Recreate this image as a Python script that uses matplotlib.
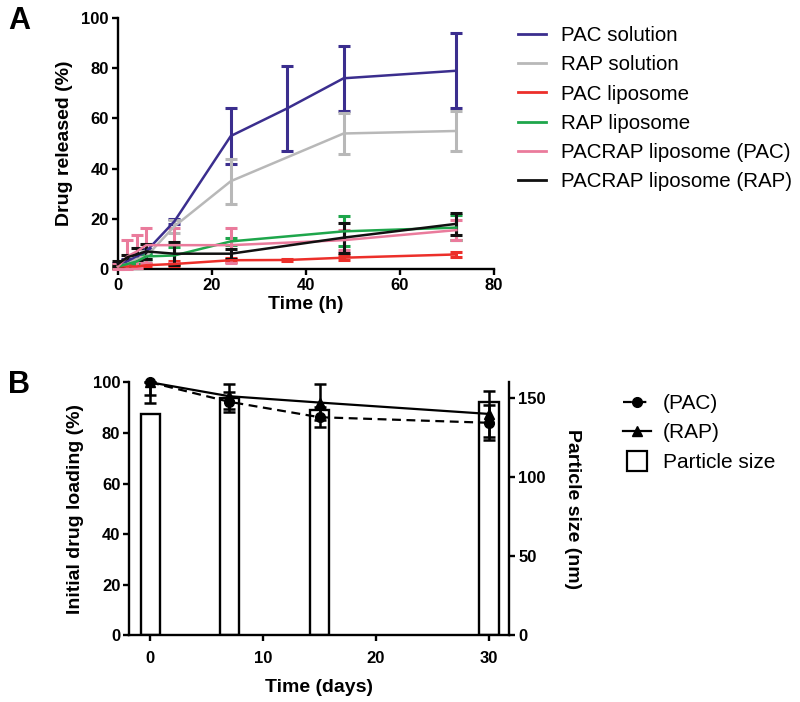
import matplotlib
matplotlib.use("Agg")
import matplotlib.pyplot as plt
import numpy as np
from matplotlib.lines import Line2D

plt.rcParams['font.family'] = ['Liberation Sans', 'DejaVu Sans']

# ---------------- Panel A data ----------------
t_all = [0, 2, 4, 6, 12, 24, 36, 48, 72]
t_no36 = [0, 2, 4, 6, 12, 24, 48, 72]

pac_sol = [2, 3, 5, 7, 19, 53, 64, 76, 79]
pac_sol_err = [0.5, 1, 1, 1, 1, 11, 17, 13, 15]

rap_sol = [1, 2, 4, 5, 17, 35, 54, 55]
rap_sol_err = [0.5, 1, 1, 2, 2.5, 9, 8, 8]

pac_lip = [1, 1, 1, 1.5, 2, 3.5, 3.6, 4.5, 5.8]
pac_lip_err = [0.5, 0.5, 0.5, 0.5, 1, 0.8, 0.5, 1, 1]

rap_lip = [1, 2, 3, 5, 5.4, 11, 15, 16.5]
rap_lip_err = [0.5, 1, 1, 1, 3.5, 1.5, 6, 5]

pacrap_pac = [1, 5, 7, 9.5, 9.5, 9.5, 11.5, 15.5]
pacrap_pac_err = [1, 6.5, 6.5, 7, 7, 7, 4, 4]

pacrap_rap = [2, 4.7, 5.8, 7, 6.1, 6.1, 12.5, 18]
pacrap_rap_err = [1, 1, 2.4, 3, 4.7, 2, 6, 4.5]

labels_A = ["PAC solution", "RAP solution", "PAC liposome", "RAP liposome",
            "PACRAP liposome (PAC)", "PACRAP liposome (RAP)"]
colors_A = ["#3b2e8e", "#b8b8b8", "#ec2f2a", "#1ea64b", "#ea7b9c", "#111111"]

# ---------------- Panel B data ----------------
days = [0, 7, 15, 30]
pac_load = [100, 92.3, 86.2, 84]
pac_load_lo = [5, 4, 4, 7]
pac_load_hi = [0, 4, 4, 7]
rap_load = [100, 94.5, 92, 87.5]
rap_load_lo = [8, 5, 7, 9]
rap_load_hi = [0, 5, 7.5, 9]
particle_size = [140, 150, 142.5, 147.5]

fig = plt.figure(figsize=(8, 7.02), dpi=100)

lw_sp = 1.7
tick_fs = 12
lab_fs = 14

def style_axis(ax, xpad=2):
    for s in ['top', 'right']:
        ax.spines[s].set_visible(False)
    for s in ['left', 'bottom']:
        ax.spines[s].set_linewidth(lw_sp)
    ax.tick_params(direction='out', length=4.5, width=lw_sp, labelsize=tick_fs, pad=2)
    ax.tick_params(axis='x', pad=xpad)
    for lab in ax.get_xticklabels() + ax.get_yticklabels():
        lab.set_fontweight('bold')

# ---------------- Panel A ----------------
axA = fig.add_axes([0.1475, 0.6168, 0.47, 0.3575])
series = [
    (t_all, pac_sol, pac_sol_err),
    (t_no36, rap_sol, rap_sol_err),
    (t_all, pac_lip, pac_lip_err),
    (t_no36, rap_lip, rap_lip_err),
    (t_no36, pacrap_pac, pacrap_pac_err),
    (t_no36, pacrap_rap, pacrap_rap_err),
]
handles = []
for (t, v, e), c, lab in zip(series, colors_A, labels_A):
    v = np.asarray(v, float)
    e = np.asarray(e, float)
    lo = np.minimum(e, v)
    axA.errorbar(t, v, yerr=[lo, e], color=c, lw=1.8, elinewidth=2.2, capsize=4.5,
                 capthick=2.2, clip_on=False, zorder=3)
    handles.append(Line2D([], [], color=c, lw=2.0, label=lab))
axA.set_xlim(0, 80)
axA.set_ylim(0, 100)
axA.set_xticks([0, 20, 40, 60, 80])
axA.set_yticks([0, 20, 40, 60, 80, 100])
style_axis(axA)
axA.set_xlabel("Time (h)", fontsize=lab_fs, fontweight='bold', labelpad=2)
axA.set_ylabel("Drug released (%)", fontsize=lab_fs, fontweight='bold', labelpad=6)
axA.legend(handles=handles, loc='upper left', bbox_to_anchor=(518/800, 1-26/702),
           bbox_transform=fig.transFigure, frameon=False, fontsize=14.8,
           handlelength=1.35, handletextpad=0.75, labelspacing=0.5,
           borderpad=0, borderaxespad=0)

fig.text(8/800, 1-6/702, "A", fontsize=22, fontweight='bold', va='top', ha='left')

# ---------------- Panel B ----------------
axB = fig.add_axes([0.1616, 0.095, 0.475, 0.3604])
axB2 = axB.twinx()
axB2.bar(days, particle_size, width=1.7, color='white', edgecolor='black',
         linewidth=1.7, zorder=2)
axB2.set_ylim(0, 160)
axB2.set_yticks([0, 50, 100, 150])
axB.set_zorder(axB2.get_zorder() + 1)
axB.patch.set_visible(False)

axB.errorbar(days, pac_load, yerr=[pac_load_lo, pac_load_hi], color='black',
             lw=1.6, ls=(0, (4, 2.5)), marker='o', ms=7, elinewidth=1.8,
             capsize=4.5, capthick=1.8, clip_on=False, zorder=4)
axB.errorbar(days, rap_load, yerr=[rap_load_lo, rap_load_hi], color='black',
             lw=1.6, ls='-', marker='^', ms=6.5, elinewidth=1.8,
             capsize=4.5, capthick=1.8, clip_on=False, zorder=4)
axB.set_xlim(-1.85, 31.8)
axB.set_ylim(0, 100)
axB.set_xticks([0, 10, 20, 30])
axB.set_yticks([0, 20, 40, 60, 80, 100])
style_axis(axB, xpad=7)
axB.set_xlabel("Time (days)", fontsize=lab_fs, fontweight='bold', labelpad=9)
axB.set_ylabel("Initial drug loading (%)", fontsize=lab_fs, fontweight='bold', labelpad=6)

for s in ['top', 'left', 'bottom']:
    axB2.spines[s].set_visible(False)
axB2.spines['right'].set_linewidth(lw_sp)
axB2.tick_params(direction='out', length=4.5, width=lw_sp, labelsize=tick_fs, pad=2)
for lab in axB2.get_yticklabels():
    lab.set_fontweight('bold')
axB2.set_ylabel("Particle size (nm)", fontsize=lab_fs, fontweight='bold',
                rotation=270, labelpad=25)

hB = [Line2D([], [], color='black', lw=1.6, ls=(0, (4, 2.5)), marker='o', ms=7, label='(PAC)'),
      Line2D([], [], color='black', lw=1.6, ls='-', marker='^', ms=6.5, label='(RAP)'),
      Line2D([], [], color='black', ls='none', marker='s', ms=15, mfc='white',
             mew=1.6, label='Particle size')]
axB.legend(handles=hB, loc='upper left', bbox_to_anchor=(623/800, 1-394/702),
           bbox_transform=fig.transFigure, frameon=False, fontsize=15,
           handlelength=1.35, handletextpad=0.55, labelspacing=0.5,
           borderpad=0, borderaxespad=0)

fig.text(8/800, 1-370/702, "B", fontsize=22, fontweight='bold', va='top', ha='left')

fig.savefig("out.png", dpi=100)
